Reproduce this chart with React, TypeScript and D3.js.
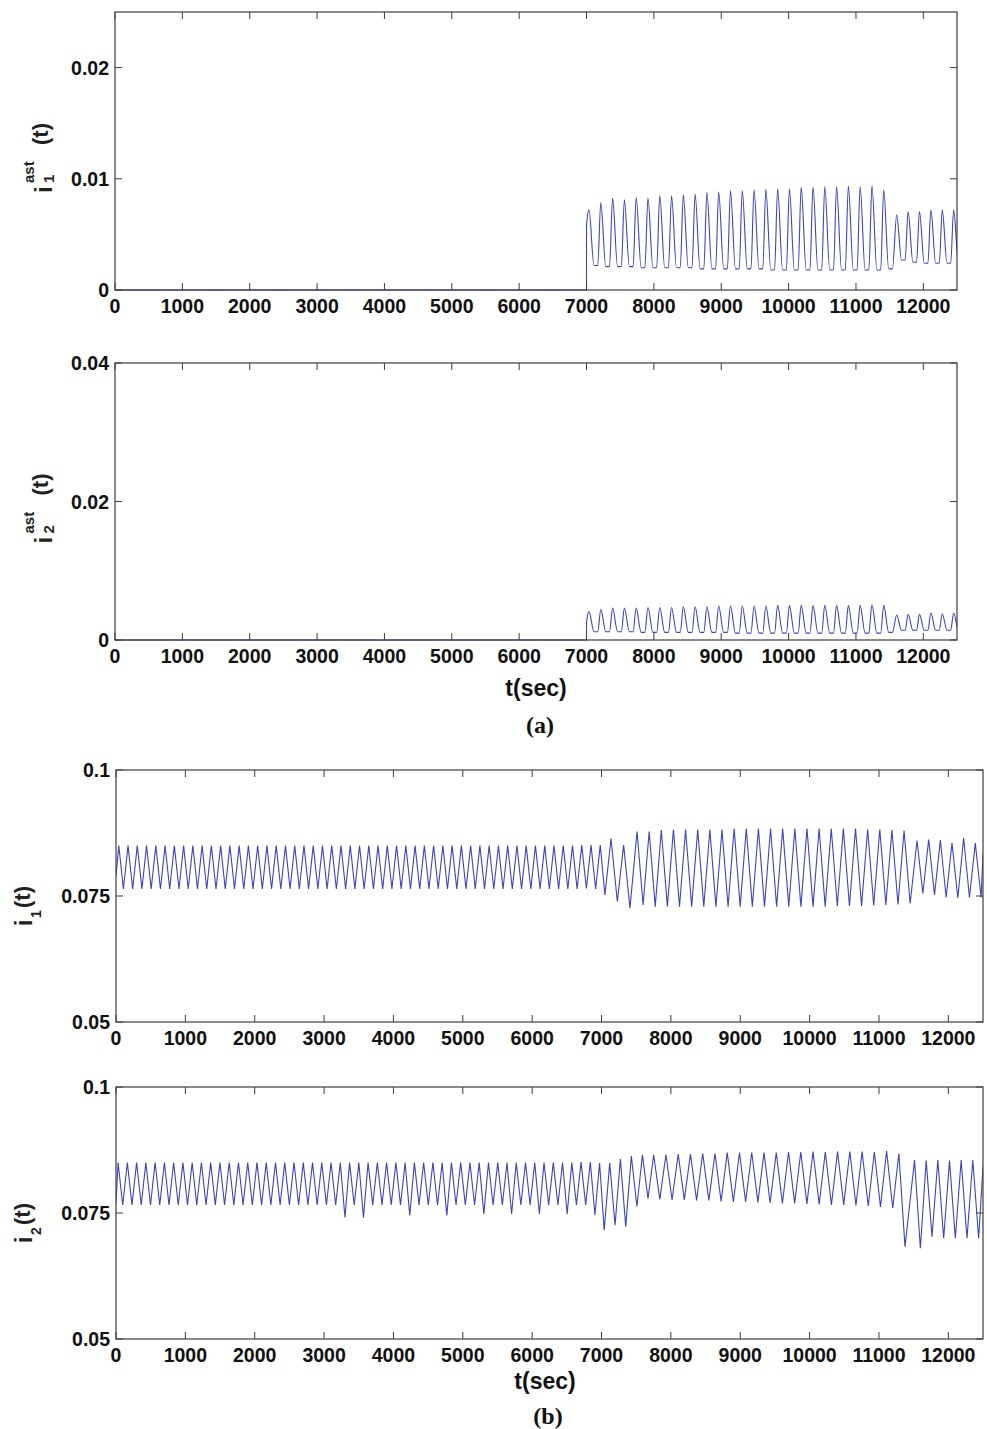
import React from "react";
import * as d3 from "d3";

const FONT = "'Liberation Sans', Arial, Helvetica, sans-serif";
const SERIF = "'Liberation Serif', 'Times New Roman', serif";
const LINE = "#3d45ba";
const AXIS = "#3c3c3c";

// time axis (seconds)
const timeTicks = [0, 1000, 2000, 3000, 4000, 5000, 6000, 7000, 8000, 9000, 10000, 11000, 12000];
const timeMax = 12500;

// ---- panel (a): astrocyte currents, zero until onset ----
const astOnset = 7000;
const astSegStart = [7037, 11605];
const astSegPeriod = [175, 169];

const ast1Jump = 0.0058;
const ast1PeaksA = [
  0.00721, 0.00787, 0.00826, 0.00811, 0.00832, 0.00826, 0.00847, 0.00847, 0.00856, 0.00862,
  0.00877, 0.0088, 0.00892, 0.00892, 0.00901, 0.00907, 0.0091, 0.0091, 0.00925, 0.00925,
  0.00931, 0.00931, 0.00937, 0.00931, 0.00937, 0.00901,
];
const ast1TroughsA = [
  0.0022, 0.0021, 0.0021, 0.0021, 0.002, 0.002, 0.002, 0.002, 0.002, 0.0019,
  0.0019, 0.0019, 0.0019, 0.0019, 0.0019, 0.0018, 0.0018, 0.0018, 0.0018, 0.0018,
  0.0018, 0.0018, 0.0018, 0.0018, 0.0018, 0.0019,
];
const ast1PeaksB = [0.00676, 0.00706, 0.00706, 0.00721, 0.00721, 0.00721];
const ast1TroughsB = [0.0027, 0.0025, 0.0024, 0.0024, 0.0024, 0.0024];

const ast2Jump = 0.0025;
const ast2PeaksA = [
  0.0041, 0.0044, 0.0046, 0.0046, 0.0046, 0.0047, 0.0047, 0.0047, 0.0048, 0.0048,
  0.0048, 0.0049, 0.0049, 0.0049, 0.0049, 0.0049, 0.005, 0.005, 0.005, 0.005,
  0.005, 0.005, 0.005, 0.005, 0.0051, 0.005,
];
const ast2TroughsA = [
  0.0012, 0.0012, 0.0012, 0.0012, 0.0011, 0.0011, 0.0011, 0.0011, 0.0011, 0.0011,
  0.0011, 0.0011, 0.001, 0.001, 0.001, 0.001, 0.001, 0.001, 0.001, 0.001,
  0.001, 0.001, 0.001, 0.001, 0.001, 0.0011,
];
const ast2PeaksB = [0.0036, 0.0037, 0.0037, 0.0039, 0.0038, 0.0039];
const ast2TroughsB = [0.0014, 0.0014, 0.0014, 0.0014, 0.0014, 0.0014];

// ---- panel (b): neuron currents ----
const i1Start = 0.079;
const i1End = 0.0835;
const i1SegStart = [40, 7137, 7512, 11549];
const i1SegPeriod = [133.5, 182, 175, 168];
const i1PeaksA = [
  0.085, 0.085, 0.085, 0.085, 0.085, 0.085, 0.085, 0.085, 0.085, 0.085,
  0.085, 0.085, 0.085, 0.085, 0.085, 0.085, 0.085, 0.085, 0.085, 0.085,
  0.085, 0.085, 0.085, 0.085, 0.085, 0.085, 0.085, 0.085, 0.085, 0.085,
  0.085, 0.085, 0.085, 0.085, 0.085, 0.085, 0.085, 0.085, 0.085, 0.085,
  0.085, 0.085, 0.085, 0.085, 0.085, 0.085, 0.085, 0.085, 0.085, 0.085,
  0.0851, 0.0851, 0.0851,
];
const i1TroughsA = [
  0.0764, 0.0764, 0.0764, 0.0764, 0.0764, 0.0764, 0.0764, 0.0764, 0.0764, 0.0764,
  0.0764, 0.0764, 0.0764, 0.0764, 0.0764, 0.0764, 0.0764, 0.0764, 0.0764, 0.0764,
  0.0764, 0.0764, 0.0764, 0.0764, 0.0764, 0.0764, 0.0764, 0.0764, 0.0764, 0.0764,
  0.0764, 0.0764, 0.0764, 0.0764, 0.0764, 0.0764, 0.0764, 0.0764, 0.0764, 0.0764,
  0.0764, 0.0764, 0.0764, 0.0764, 0.0764, 0.0764, 0.0764, 0.0764, 0.0764, 0.0764,
  0.0765, 0.0764, 0.0752,
];
const i1PeaksB = [0.0864, 0.0851];
const i1TroughsB = [0.0739, 0.0726];
const i1PeaksC = [
  0.0878, 0.0878, 0.0881, 0.0882, 0.0882, 0.0882, 0.0882, 0.0882, 0.0884, 0.0884,
  0.0884, 0.0884, 0.0884, 0.0884, 0.0884, 0.0884, 0.0884, 0.0884, 0.0884, 0.0882,
  0.0882, 0.0881, 0.088,
];
const i1TroughsC = [
  0.0732, 0.0729, 0.0729, 0.0729, 0.0729, 0.0729, 0.0729, 0.0729, 0.0729, 0.0729,
  0.0729, 0.0729, 0.0729, 0.0729, 0.0729, 0.0729, 0.073, 0.073, 0.073, 0.0731,
  0.0732, 0.0733, 0.0735,
];
const i1PeaksD = [0.086, 0.0862, 0.0861, 0.0855, 0.0865, 0.0855];
const i1TroughsD = [0.0755, 0.0752, 0.0747, 0.0746, 0.0747, 0.0747];

const i2Start = 0.077;
const i2End = 0.0842;
const i2SegStart = [30, 7118, 7430, 7752, 11513];
const i2SegPeriod = [133.5, 154, 160, 176.75, 168];
const i2PeaksA = [
  0.085, 0.085, 0.085, 0.085, 0.085, 0.085, 0.085, 0.085, 0.085, 0.085,
  0.085, 0.085, 0.085, 0.085, 0.085, 0.085, 0.085, 0.085, 0.085, 0.085,
  0.085, 0.085, 0.085, 0.085, 0.085, 0.085, 0.085, 0.085, 0.085, 0.085,
  0.085, 0.085, 0.085, 0.085, 0.085, 0.085, 0.085, 0.085, 0.085, 0.085,
  0.085, 0.085, 0.085, 0.085, 0.085, 0.085, 0.085, 0.085, 0.085, 0.085,
  0.0851, 0.0851, 0.0849,
];
const i2TroughsA = [
  0.0766, 0.0766, 0.0766, 0.0766, 0.0766, 0.0766, 0.0766, 0.0766, 0.0766, 0.0766,
  0.0766, 0.0766, 0.0766, 0.0766, 0.0766, 0.0766, 0.0766, 0.0766, 0.0766, 0.0766,
  0.0766, 0.0766, 0.0766, 0.0766, 0.0741, 0.0766, 0.0741, 0.0766, 0.0766, 0.0766,
  0.0766, 0.0745, 0.0766, 0.0766, 0.0766, 0.0745, 0.0766, 0.0766, 0.0766, 0.0748,
  0.0766, 0.0766, 0.0748, 0.0766, 0.0766, 0.0748, 0.0766, 0.0766, 0.0748, 0.0766,
  0.0766, 0.0746, 0.0716,
];
const i2PeaksB = [0.0849, 0.0857];
const i2TroughsB = [0.0726, 0.0723];
const i2PeaksC = [0.0863, 0.0865];
const i2TroughsC = [0.0763, 0.0779];
const i2PeaksD = [
  0.0865, 0.0866, 0.0867, 0.0867, 0.0868, 0.0868, 0.087, 0.087, 0.087, 0.087,
  0.087, 0.0871, 0.0871, 0.0872, 0.0871, 0.0872, 0.0872, 0.0872, 0.0871, 0.0873,
  0.0868,
];
const i2TroughsD = [
  0.0777, 0.0776, 0.0776, 0.0775, 0.0775, 0.0773, 0.0772, 0.0772, 0.0771, 0.077,
  0.0769, 0.0769, 0.0768, 0.0767, 0.0766, 0.0766, 0.0765, 0.0764, 0.0762, 0.076,
  0.0683,
];
const i2PeaksE = [0.0855, 0.0854, 0.0855, 0.0854, 0.0855, 0.0855];
const i2TroughsE = [0.068, 0.0703, 0.07, 0.07, 0.07, 0.07];

type Pt = [number, number];

// regular zig-zag: peak then trough half a period later
function oscillation(startVal: number, starts: number[], periods: number[], peaks: number[][], troughs: number[][], endVal: number): Pt[] {
  const pts: Pt[] = [[0, startVal]];
  starts.forEach((s, i) => {
    const p = periods[i];
    peaks[i].forEach((v, k) => {
      pts.push([s + k * p, v]);
      pts.push([s + k * p + p / 2, troughs[i][k]]);
    });
  });
  pts.push([timeMax, endVal]);
  return pts;
}

// spikes with a short flat base between them
function spikes(onset: number, jump: number, starts: number[], periods: number[], peaks: number[][], troughs: number[][]): Pt[] {
  const pts: Pt[] = [[0, 0], [onset, 0], [onset + 0.01, jump]];
  starts.forEach((s, i) => {
    const p = periods[i];
    peaks[i].forEach((v, k) => {
      const tp = s + k * p;
      pts.push([tp, v]);
      pts.push([tp + 0.42 * p, troughs[i][k]]);
      pts.push([tp + 0.74 * p, troughs[i][k]]);
    });
  });
  return pts;
}

const ast1Points = spikes(astOnset, ast1Jump, astSegStart, astSegPeriod, [ast1PeaksA, ast1PeaksB], [ast1TroughsA, ast1TroughsB]);
const ast2Points = spikes(astOnset, ast2Jump, astSegStart, astSegPeriod, [ast2PeaksA, ast2PeaksB], [ast2TroughsA, ast2TroughsB]);
const i1Points = oscillation(i1Start, i1SegStart, i1SegPeriod, [i1PeaksA, i1PeaksB, i1PeaksC, i1PeaksD], [i1TroughsA, i1TroughsB, i1TroughsC, i1TroughsD], i1End);
const i2Points = oscillation(i2Start, i2SegStart, i2SegPeriod, [i2PeaksA, i2PeaksB, i2PeaksC, i2PeaksD, i2PeaksE], [i2TroughsA, i2TroughsB, i2TroughsC, i2TroughsD, i2TroughsE], i2End);

const panels = [
  { id: "p1", top: 12, bottom: 290, left: 115, right: 957, yDomain: [0, 0.025], yTicks: [0, 0.01, 0.02], points: ast1Points, curve: d3.curveMonotoneX, ast: true, sub: "1" },
  { id: "p2", top: 363, bottom: 640, left: 115, right: 957, yDomain: [0, 0.04], yTicks: [0, 0.02, 0.04], points: ast2Points, curve: d3.curveMonotoneX, ast: true, sub: "2" },
  { id: "p3", top: 770, bottom: 1022, left: 116, right: 983, yDomain: [0.05, 0.1], yTicks: [0.05, 0.075, 0.1], points: i1Points, curve: d3.curveLinear, ast: false, sub: "1" },
  { id: "p4", top: 1087, bottom: 1339, left: 116, right: 983, yDomain: [0.05, 0.1], yTicks: [0.05, 0.075, 0.1], points: i2Points, curve: d3.curveLinear, ast: false, sub: "2" },
];

const fmt = d3.format("~g");

function YLabel({ ast, sub, cy }: { ast: boolean; sub: string; cy: number }) {
  if (ast) {
    return (
      <g transform={`translate(52,${cy}) rotate(-90)`} fontFamily={FONT} fontWeight="bold" fill="#222">
        <text x={-38} y={0} fontSize={24}>i</text>
        <text x={-28} y={-18} fontSize={15}>ast</text>
        <text x={-28} y={2} fontSize={15}>{sub}</text>
        <text x={10} y={-4} fontSize={22}>(t)</text>
      </g>
    );
  }
  return (
    <g transform={`translate(32,${cy}) rotate(-90)`} fontFamily={FONT} fontWeight="bold" fill="#222">
      <text x={-26} y={0} fontSize={23}>i</text>
      <text x={-18} y={9} fontSize={14}>{sub}</text>
      <text x={-8} y={-2} fontSize={22}>(t)</text>
    </g>
  );
}

function Panel({ p }: { p: (typeof panels)[number] }) {
  const x = d3.scaleLinear().domain([0, timeMax]).range([p.left, p.right]);
  const y = d3.scaleLinear().domain(p.yDomain).range([p.bottom, p.top]);
  const line = d3
    .line<Pt>()
    .x((d) => x(d[0]))
    .y((d) => y(d[1]))
    .curve(p.curve);
  const tick = 7;
  return (
    <g>
      <defs>
        <clipPath id={`clip-${p.id}`}>
          <rect x={p.left} y={p.top - 2} width={p.right - p.left} height={p.bottom - p.top + 3} />
        </clipPath>
      </defs>
      <path d={line(p.points) || ""} fill="none" stroke={LINE} strokeWidth={1.1} clipPath={`url(#clip-${p.id})`} />
      <rect x={p.left} y={p.top} width={p.right - p.left} height={p.bottom - p.top} fill="none" stroke={AXIS} strokeWidth={1.2} />
      <g stroke={AXIS} strokeWidth={1}>
        {timeTicks.map((t) => (
          <g key={t}>
            <line x1={x(t)} x2={x(t)} y1={p.bottom} y2={p.bottom - tick} />
            <line x1={x(t)} x2={x(t)} y1={p.top} y2={p.top + tick} />
          </g>
        ))}
        {p.yTicks.map((v) => (
          <g key={v}>
            <line x1={p.left} x2={p.left + tick} y1={y(v)} y2={y(v)} />
            <line x1={p.right} x2={p.right - tick} y1={y(v)} y2={y(v)} />
          </g>
        ))}
      </g>
      <g fontFamily={FONT} fontWeight="bold" fontSize={19.5} fill="#111">
        {timeTicks.map((t) => (
          <text key={t} x={x(t)} y={p.bottom + 23} textAnchor="middle">
            {t}
          </text>
        ))}
        {p.yTicks.map((v) => (
          <text key={v} x={p.left - 6} y={y(v)} textAnchor="end" dominantBaseline="central">
            {fmt(v)}
          </text>
        ))}
      </g>
      <YLabel ast={p.ast} sub={p.sub} cy={(p.top + p.bottom) / 2 + (p.ast ? 4 : 4)} />
    </g>
  );
}

export default function App() {
  return (
    <svg
      width={987}
      height={1429}
      viewBox="0 0 987 1429"
      style={{ position: "absolute", left: 0, top: 0, background: "#fff" }}
    >
      <rect width={987} height={1429} fill="#fff" />
      {panels.map((p) => (
        <Panel key={p.id} p={p} />
      ))}
      <g fontFamily={FONT} fontWeight="bold" fontSize={23} fill="#111" textAnchor="middle">
        <text x={536} y={696}>t(sec)</text>
        <text x={545} y={1389}>t(sec)</text>
      </g>
      <g fontFamily={SERIF} fontWeight="bold" fontSize={24} fill="#111" textAnchor="middle">
        <text x={540} y={733}>(a)</text>
        <text x={548} y={1424}>(b)</text>
      </g>
    </svg>
  );
}
